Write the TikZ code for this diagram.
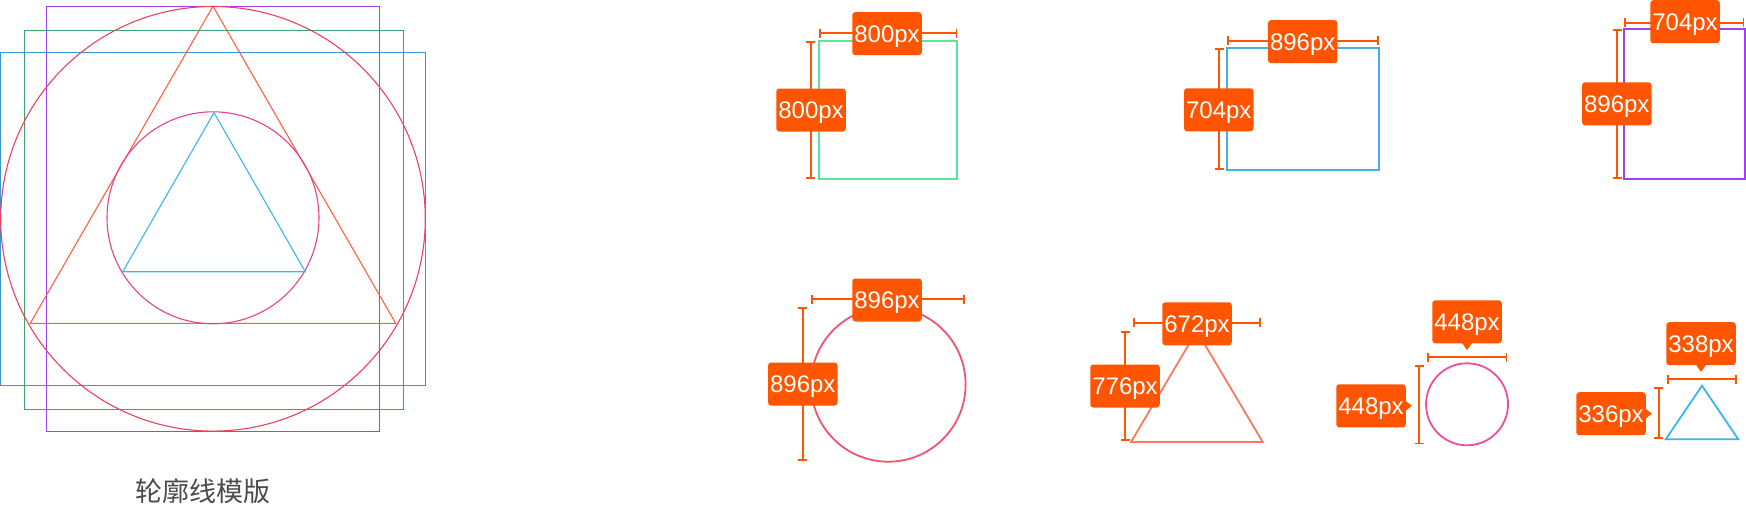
\documentclass[tikz,border=0pt]{standalone}
\usepackage{fontspec}
\setmainfont{Liberation Sans}
\newfontfamily\cjk{Noto Sans CJK SC}
\usetikzlibrary{arrows.meta}
\definecolor{lblor}{HTML}{FF5500}
\definecolor{cpurple}{HTML}{A040F0}
\definecolor{cgreenA}{HTML}{36A86C}
\definecolor{cgreenB}{HTML}{5CE49C}
\definecolor{cblueA}{HTML}{3A94D4}
\definecolor{cblueB}{HTML}{4AABEA}
\definecolor{cred}{HTML}{F0405E}
\definecolor{credB}{HTML}{F05470}
\definecolor{corange}{HTML}{FF6040}
\definecolor{corangeB}{HTML}{F57A5E}
\definecolor{cpink}{HTML}{E8418C}
\definecolor{cpinkB}{HTML}{EE4E9C}
\definecolor{ccyan}{HTML}{38B6EE}
\definecolor{ctext}{HTML}{4A4A4A}
\tikzset{
  thin1/.style={line width=1.1pt},
  thick2/.style={line width=1.8pt},
  dimline/.style={draw=lblor, line width=1.8pt, {Bar[width=9pt]}-{Bar[width=9pt]}},
  lbl/.style={fill=lblor, text=white, rounded corners=3pt, minimum width=69.5pt,
    minimum height=43pt, inner sep=0pt, text height=17pt, text depth=0pt,
    font=\fontsize{24}{24}\selectfont},
  ptr/.style={fill=lblor}
}
\begin{document}
\begin{tikzpicture}[x=1pt,y=-1pt]
\useasboundingbox (0,0) rectangle (1746,506);
% template
\draw[thin1, cpurple] (46.3,6.3) rectangle (379.7,431.3);
\draw[thin1, cgreenA] (24.3,30.3) rectangle (403.7,409.3);
\draw[thin1, cblueA] (0.7,52.3) rectangle (425.7,385.3);
\draw[thin1, cred] (213,218.8) circle[radius=212.3pt];
\draw[thin1, corange] (213,6.3) -- (395.7,323.3) -- (30.3,323.3) -- cycle;
\draw[thin1, cpink] (213,217.8) circle[radius=106pt];
\draw[thin1, ccyan] (214,112.7) -- (305.3,271.7) -- (122.7,271.7) -- cycle;
\node[font=\cjk\fontsize{27}{27}\selectfont, text=ctext] (title) at (202.5,491.5) {轮廓线模版};
% shapes
\draw[thick2, cgreenB] (818.7,40.7) rectangle (957.3,178.7);
\draw[thick2, cblueB] (1227,48) rectangle (1379,170);
\draw[thick2, cpurple] (1624.3,28.7) rectangle (1744.6,178.7);
\draw[thick2, credB] (888.3,384.4) circle[radius=77.3pt];
\draw[thick2, corangeB] (1196.8,331) -- (1262.7,442) -- (1131,442) -- cycle;
\draw[thick2, cpinkB] (1467,404.3) circle[radius=41pt];
\draw[thick2, ccyan] (1702,385.7) -- (1738.3,439.3) -- (1665.7,439.3) -- cycle;
% dimension end points
\coordinate (h1a) at (818.7,33); \coordinate (h1b) at (957.3,33);
\coordinate (v1a) at (810.7,40.7); \coordinate (v1b) at (810.7,178.7);
\coordinate (h2a) at (1227,40.7); \coordinate (h2b) at (1379,40.7);
\coordinate (v2a) at (1219,48); \coordinate (v2b) at (1219,170);
\coordinate (h3a) at (1624.3,22.7); \coordinate (h3b) at (1744.3,22.7);
\coordinate (v3a) at (1617,28.7); \coordinate (v3b) at (1617,178.7);
\coordinate (h4a) at (810.7,299); \coordinate (h4b) at (964.7,299);
\coordinate (v4a) at (802.7,307); \coordinate (v4b) at (802.7,461);
\coordinate (h5a) at (1132.7,322.7); \coordinate (h5b) at (1261,322.7);
\coordinate (v5a) at (1125,331); \coordinate (v5b) at (1125,441);
\coordinate (h6a) at (1426.7,357); \coordinate (h6b) at (1507.3,357);
\coordinate (v6a) at (1419,365); \coordinate (v6b) at (1419,444.3);
\coordinate (h7a) at (1666.7,379.3); \coordinate (h7b) at (1736.7,379.3);
\coordinate (v7a) at (1658.7,387); \coordinate (v7b) at (1658.7,438.7);
\foreach \i in {1,...,7}{
  \draw[dimline] (h\i a) -- (h\i b);
  \draw[dimline] (v\i a) -- (v\i b);
}
% labels
\node[lbl] (l1t) at (887,33.7) {800px};
\node[lbl] (l1l) at (811,110) {800px};
\node[lbl] (l2t) at (1302.7,41.7) {896px};
\node[lbl] (l2l) at (1218.8,109.8) {704px};
\node[lbl] (l3t) at (1685,21.7) {704px};
\node[lbl] (l3l) at (1616.8,103.8) {896px};
\node[lbl] (l4t) at (887,300) {896px};
\node[lbl] (l4l) at (802.8,384) {896px};
\node[lbl] (l5t) at (1197,323.8) {672px};
\node[lbl] (l5l) at (1125,386) {776px};
\node[lbl] (l6t) at (1467,321.8) {448px};
\node[lbl] (l6l) at (1371,405.8) {448px};
\node[lbl] (l7t) at (1701,343.7) {338px};
\node[lbl] (l7l) at (1611,413.7) {336px};
\fill[ptr] ([xshift=-5pt,yshift=0.5pt]l6t.south) -- ([xshift=5pt,yshift=0.5pt]l6t.south) -- ([yshift=-6.5pt]l6t.south) -- cycle;
\fill[ptr] ([xshift=-5pt,yshift=0.5pt]l7t.south) -- ([xshift=5pt,yshift=0.5pt]l7t.south) -- ([yshift=-6.5pt]l7t.south) -- cycle;
\fill[ptr] ([xshift=-0.5pt,yshift=5pt]l6l.east) -- ([xshift=-0.5pt,yshift=-5pt]l6l.east) -- ([xshift=6pt]l6l.east) -- cycle;
\fill[ptr] ([xshift=-0.5pt,yshift=5pt]l7l.east) -- ([xshift=-0.5pt,yshift=-5pt]l7l.east) -- ([xshift=6pt]l7l.east) -- cycle;
\end{tikzpicture}
\end{document}
